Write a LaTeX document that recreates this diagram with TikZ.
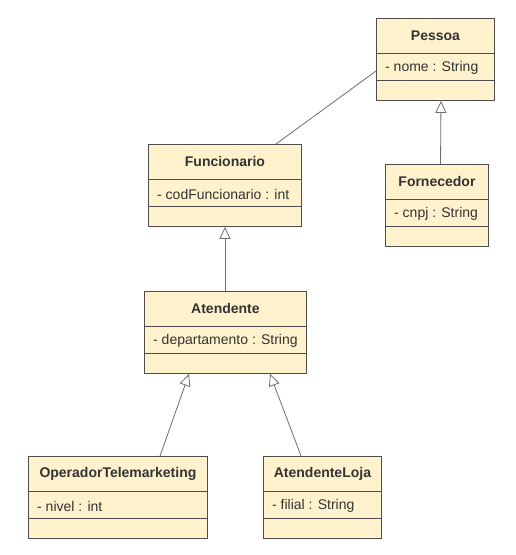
\documentclass[tikz,border=0pt]{standalone}
\usepackage{fontspec}
\setmainfont{Liberation Sans}
\usetikzlibrary{arrows.meta}
\definecolor{classfill}{HTML}{FFF2CC}
\definecolor{classborder}{HTML}{4D4D4D}
\definecolor{connline}{HTML}{6E6E6E}
\definecolor{textcol}{HTML}{333333}
\tikzset{
  classbox/.style={draw=classborder, fill=classfill, line width=0.9pt, minimum height=82pt, inner sep=0pt, anchor=north west},
  sepline/.style={draw=classborder, line width=0.9pt},
  titletext/.style={font=\fontsize{14}{16}\selectfont\bfseries, text=textcol, inner sep=0pt},
  attrtext/.style={font=\fontsize{14}{16}\selectfont, text=textcol, inner sep=0pt, anchor=west},
  inherit/.style={draw=connline, line width=0.8pt, -{Triangle[open, length=12pt, width=11pt, fill=white]}},
  assoc/.style={draw=connline, line width=0.8pt}
}
\newcommand{\umlclass}[6]{%
  \node[classbox, minimum width=#4pt] (#1) at (#2,#3) {};
  \draw[sepline] ([yshift=-35pt]#1.north west) -- ([yshift=-35pt]#1.north east);
  \draw[sepline] ([yshift=-62pt]#1.north west) -- ([yshift=-62pt]#1.north east);
  \node[titletext] (#1-title) at ([yshift=-17.5pt]#1.north) {#5};
  \node[attrtext] (#1-attr) at ([xshift=9pt,yshift=-50pt]#1.north west) {#6};
}
\begin{document}
\begin{tikzpicture}[x=1pt, y=-1pt]
  \fill[white] (0,0) rectangle (516,555);
  \useasboundingbox (0,0) rectangle (516,555);
  \umlclass{pessoa}{376}{18}{118}{Pessoa}{- nome : String}
  \umlclass{func}{148}{144}{153}{Funcionario}{- codFuncionario : int}
  \umlclass{forn}{385}{164}{103}{Fornecedor}{- cnpj : String}
  \umlclass{atend}{144}{291}{162}{Atendente}{- departamento : String}
  \umlclass{oper}{28}{456}{179}{OperadorTelemarketing}{- nivel : int}
  \umlclass{loja}{263}{456}{118}{AtendenteLoja}{- filial : String}
  % connectors
  \draw[assoc] ([xshift=128pt]func.north west) -- ([yshift=-53pt]pessoa.north west);
  \draw[inherit] ([xshift=55.5pt]forn.north west) -- ([xshift=65pt]pessoa.south west);
  \draw[inherit] ([xshift=81pt]atend.north west) -- ([xshift=77pt]func.south west);
  \draw[inherit] ([xshift=132pt]oper.north west) -- ([xshift=45pt]atend.south west);
  \draw[inherit] ([xshift=38pt]loja.north west) -- ([xshift=126pt]atend.south west);
\end{tikzpicture}
\end{document}
